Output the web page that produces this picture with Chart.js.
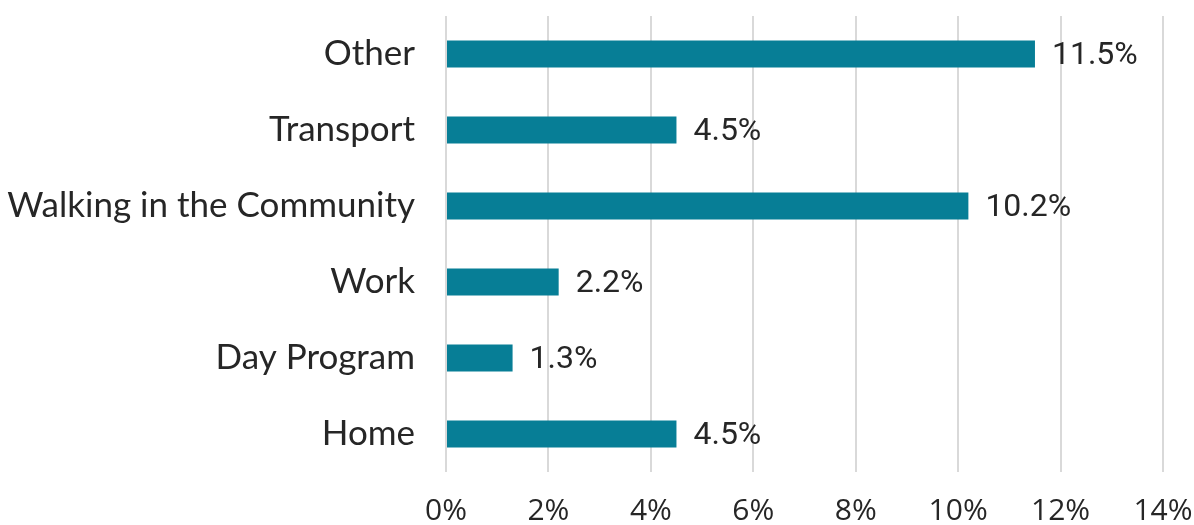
<!DOCTYPE html>
<html>
<head>
<meta charset="utf-8">
<script src="https://cdn.jsdelivr.net/npm/chart.js@4/dist/chart.umd.min.js"></script>
<style>
html,body{margin:0;padding:0;background:#fff;}
#wrap{width:1194px;height:525px;position:relative;}
</style>
</head>
<body>
<div id="wrap"><canvas id="c" width="1194" height="525"></canvas></div>
<script>
const categories = ["Other", "Transport", "Walking in the Community", "Work", "Day Program", "Home"];
const values = [11.5, 4.5, 10.2, 2.2, 1.3, 4.5];
const xTicks = [0, 2, 4, 6, 8, 10, 12, 14];

const BAR_COLOR = "#077E96";
const TEXT_COLOR = "#262626";

const valueLabels = {
  id: "valueLabels",
  afterDatasetsDraw(chart) {
    const ctx = chart.ctx;
    const meta = chart.getDatasetMeta(0);
    ctx.save();
    ctx.font = "32px Roboto";
    ctx.fillStyle = TEXT_COLOR;
    ctx.textAlign = "left";
    ctx.textBaseline = "middle";
    meta.data.forEach((bar, i) => {
      ctx.fillText(values[i].toFixed(1) + "%", bar.x + 17, bar.y + 2);
    });
    ctx.restore();
  }
};

function zeroPad(scale) {
  scale.paddingTop = 0; scale.paddingBottom = 0;
  scale.paddingLeft = 0; scale.paddingRight = 0;
}

new Chart(document.getElementById("c"), {
  type: "bar",
  data: {
    labels: categories,
    datasets: [{
      data: values,
      backgroundColor: BAR_COLOR,
      borderWidth: 0,
      categoryPercentage: 1,
      barPercentage: 0.355
    }]
  },
  options: {
    indexAxis: "y",
    responsive: false,
    animation: false,
    layout: { padding: { top: 16, right: 31, left: 0, bottom: 0 } },
    plugins: { legend: { display: false }, tooltip: { enabled: false } },
    scales: {
      x: {
        min: 0, max: 14,
        afterBuildTicks(scale) { scale.ticks = xTicks.map(v => ({ value: v })); },
        afterFit(scale) { scale.height = 53; zeroPad(scale); },
        border: { display: false },
        grid: { color: "#d9d9d9", lineWidth: 2, drawTicks: false },
        ticks: {
          padding: 21,
          maxRotation: 0,
          autoSkip: false,
          color: TEXT_COLOR,
          font: { family: "'Open Sans'", size: 30 },
          callback: (v) => v + "%"
        }
      },
      y: {
        afterFit(scale) { scale.width = 446; zeroPad(scale); },
        border: { display: false },
        grid: { display: false, drawTicks: false },
        ticks: {
          padding: 31,
          color: TEXT_COLOR,
          font: { family: "Lato", size: 35 }
        }
      }
    }
  },
  plugins: [valueLabels]
});
</script>
</body>
</html>
